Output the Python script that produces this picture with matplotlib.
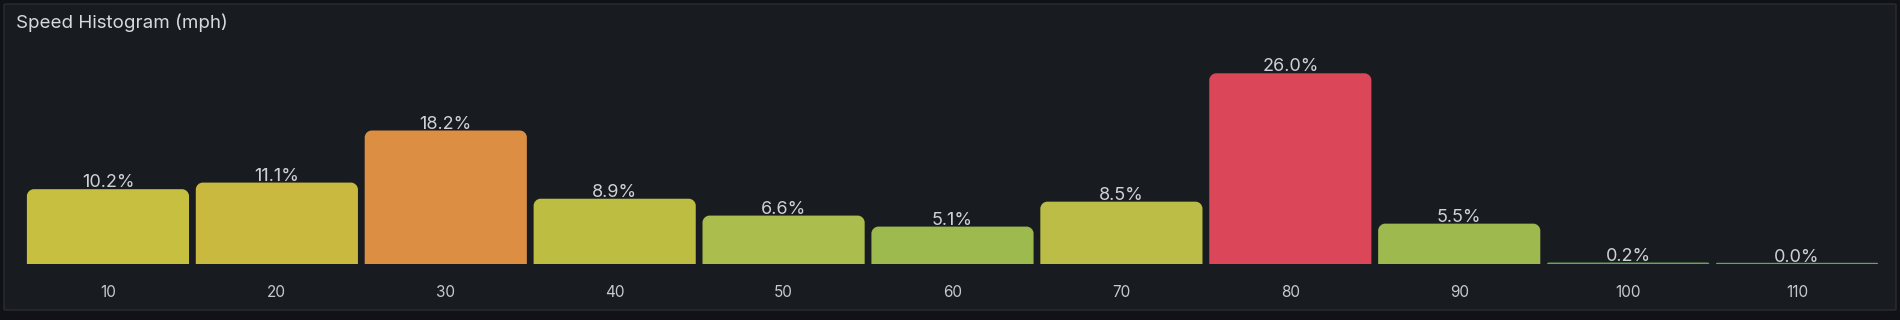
import matplotlib
matplotlib.use("Agg")
import matplotlib.pyplot as plt
from matplotlib.path import Path
from matplotlib.patches import PathPatch, FancyBboxPatch

# ---- data ----
speed_bins = ["10", "20", "30", "40", "50", "60", "70", "80", "90", "100", "110"]
percent = [10.2, 11.1, 18.2, 8.9, 6.6, 5.1, 8.5, 26.0, 5.5, 0.2, 0.0]
bar_colors = ["#c6bf40", "#c9b93f", "#dc8f42", "#bcbd41", "#abbd4c", "#9cba4e",
              "#bbbd47", "#dc4659", "#9eba4f", "#73bf69", "#73bf69"]
title = "Speed Histogram (mph)"

W, H = 1900, 320
DPI = 100
fig = plt.figure(figsize=(W / DPI, H / DPI), dpi=DPI)
fig.patch.set_facecolor("#111217")

# panel background
panel = FancyBboxPatch((4 / W, 10 / H), 1892 / W, 306 / H,
                       boxstyle="round,pad=0,rounding_size=0.002",
                       transform=fig.transFigure, facecolor="#181b1f",
                       edgecolor="#2a2d33", linewidth=1.0, zorder=-5)
fig.patches.append(panel)

fig.text(16 / W, 1 - 23 / H, title, color="#d8d9e0", fontsize=13.5,
         family=["Inter", "DejaVu Sans"], va="center", ha="left")

ax_left, ax_right = 23.5, 1881.5
ax_bottom, ax_top = 264, 73.3
ax = fig.add_axes([ax_left / W, (H - ax_bottom) / H,
                   (ax_right - ax_left) / W, (ax_bottom - ax_top) / H])
ax.set_facecolor("none")
ax.set_zorder(3)
x = list(range(len(speed_bins)))
width = 0.96
bars = ax.bar(x, percent, width=width, color=bar_colors)
ax.set_xlim(-0.5, len(speed_bins) - 0.5)
ax.set_ylim(0, max(percent))
for s in ax.spines.values():
    s.set_visible(False)
ax.set_yticks([])
ax.set_xticks(x)
ax.set_xticklabels(speed_bins, color="#c7c8d0", fontsize=11,
                   family=["Inter", "DejaVu Sans"])
ax.tick_params(axis="x", length=0, pad=15)

fig.canvas.draw()
# replace bars with top-rounded versions computed in display coords
for rect, c, v in zip(bars.patches, bar_colors, percent):
    rect.set_visible(False)
    (x0, y0), (x1, y1) = ax.transData.transform(
        [(rect.get_x(), 0), (rect.get_x() + rect.get_width(), rect.get_height())])
    h = max(y1 - y0, 1.2)
    y1 = y0 + h
    r = min(7.0, h)
    k = 0.55
    verts = [(x0, y0), (x0, y1 - r), (x0, y1 - r + k * r), (x0 + r - k * r, y1), (x0 + r, y1),
             (x1 - r, y1), (x1 - r + k * r, y1), (x1, y1 - r + k * r), (x1, y1 - r),
             (x1, y0), (x0, y0)]
    codes = [Path.MOVETO, Path.LINETO, Path.CURVE4, Path.CURVE4, Path.CURVE4,
             Path.LINETO, Path.CURVE4, Path.CURVE4, Path.CURVE4,
             Path.LINETO, Path.CLOSEPOLY]
    p = PathPatch(Path(verts, codes), facecolor=c, edgecolor="none",
                  transform=None, zorder=1, alpha=1.0 if v > 1 else 0.85)
    fig.patches.append(p)
    ax.annotate(f"{v:.1f}%", xy=(rect.get_x() + rect.get_width() / 2, rect.get_height()),
                xytext=(0, -2), textcoords="offset pixels", ha="center", va="bottom",
                color="#d0d1d8", fontsize=13, family=["Inter", "DejaVu Sans"],
                annotation_clip=False)

fig.savefig("out.png", dpi=DPI, facecolor=fig.get_facecolor())
